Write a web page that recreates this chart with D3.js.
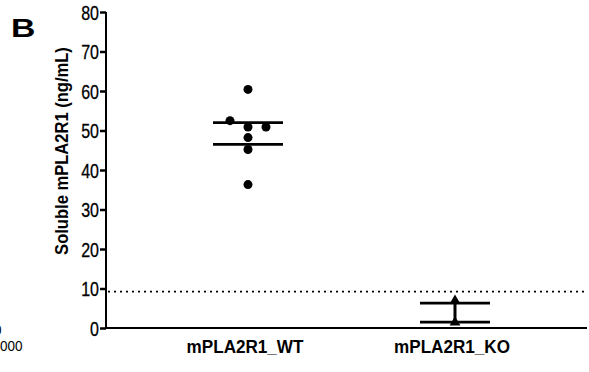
<!DOCTYPE html>
<html>
<head>
<meta charset="utf-8">
<script src="https://cdn.jsdelivr.net/npm/d3@7"></script>
<style>
  html, body { margin: 0; padding: 0; background: #fff; }
  svg { display: block; }
  text { font-family: "Liberation Sans", Arial, sans-serif; fill: #000; }
</style>
</head>
<body>
<svg id="chart" width="589" height="372"></svg>
<script>
// groups on the x axis
const groups = ["mPLA2R1_WT", "mPLA2R1_KO"];

// soluble mPLA2R1 (ng/mL)
const wtValues = [60.4, 52.5, 50.9, 50.9, 48.2, 45.2, 36.3];
const wtJitter = [0, -2, 0, 2, 0, 0, 0];      // horizontal spread, in dot widths
const koValues = [6.9, 1.4];

// summary bars (upper / lower) per group
const wtBars = [52.0, 46.5];
const koBars = [6.3, 1.5];

const detectionLimit = 9.2;
const yTicks = [0, 10, 20, 30, 40, 50, 60, 70, 80];

const svg = d3.select("#chart");
const m = { left: 106, right: 587, top: 12, bottom: 328 };

const y = d3.scaleLinear().domain([0, 80]).range([m.bottom, m.top]);
const x = d3.scalePoint().domain(groups).range([248, 455]);

// panel letter
svg.append("text")
  .attr("transform", "translate(11,37) scale(1.35,1)")
  .style("font-size", "25px").style("font-weight", "bold")
  .text("B");

// leftover from neighbouring panel
svg.append("text")
  .attr("transform", "translate(0,351) scale(0.9,1)")
  .style("font-size", "15px")
  .text("000");
svg.append("text")
  .attr("transform", "translate(-6,335) scale(0.9,1)")
  .style("font-size", "15px")
  .text("0");

// y axis
const yAxis = svg.append("g")
  .attr("transform", `translate(${m.left},0)`)
  .call(d3.axisLeft(y).tickValues(yTicks).tickSize(6).tickPadding(3).tickSizeOuter(0));
yAxis.attr("font-size", 20).attr("font-family", "Liberation Sans, Arial, sans-serif");
yAxis.select(".domain").attr("stroke-width", 2).attr("d", `M0,${m.top}V${m.bottom}`);
yAxis.selectAll(".tick line").attr("stroke-width", 2.5);
yAxis.selectAll(".tick text")
  .attr("x", null)
  .attr("dy", "0.35em")
  .attr("transform", "translate(-7,0) scale(0.8,1)")
  .style("font-size", "20px")
  .style("stroke", "#000").style("stroke-width", 0.3);

// x axis line
svg.append("line")
  .attr("x1", m.left - 1).attr("x2", m.right)
  .attr("y1", m.bottom).attr("y2", m.bottom)
  .attr("stroke", "#000").attr("stroke-width", 2);

// group labels
svg.selectAll(".glabel")
  .data(groups)
  .join("text")
  .attr("class", "glabel")
  .attr("transform", d => `translate(${x(d) - 3},353) scale(0.9,1)`)
  .attr("text-anchor", "middle")
  .style("font-size", "19px").style("font-weight", "bold")
  .text(d => d);

// y label
svg.append("text")
  .attr("transform", "translate(68,151) rotate(-90) scale(0.92,1)")
  .attr("text-anchor", "middle")
  .style("font-size", "18px").style("font-weight", "bold")
  .text("Soluble mPLA2R1 (ng/mL)");

// detection limit
svg.append("line")
  .attr("x1", m.left + 2).attr("x2", m.right)
  .attr("y1", y(detectionLimit)).attr("y2", y(detectionLimit))
  .attr("stroke", "#000").attr("stroke-width", 1.6)
  .attr("stroke-dasharray", "2,4");

const barHalf = 35;
const dotR = 4.5;

function drawBars(group, vals) {
  svg.selectAll(null)
    .data(vals)
    .join("line")
    .attr("x1", x(group) - barHalf).attr("x2", x(group) + barHalf)
    .attr("y1", d => y(d)).attr("y2", d => y(d))
    .attr("stroke", "#000").attr("stroke-width", 2.8);
}

drawBars(groups[0], wtBars);
drawBars(groups[1], koBars);

// WT dots
svg.selectAll(".wt")
  .data(wtValues)
  .join("circle")
  .attr("class", "wt")
  .attr("cx", (d, i) => x(groups[0]) + wtJitter[i] * dotR * 2)
  .attr("cy", d => y(d))
  .attr("r", dotR)
  .attr("fill", "#000");

// KO: stem + triangles
svg.append("line")
  .attr("x1", x(groups[1])).attr("x2", x(groups[1]))
  .attr("y1", y(d3.max(koValues))).attr("y2", y(d3.min(koValues)))
  .attr("stroke", "#000").attr("stroke-width", 3);

svg.selectAll(".ko")
  .data(koValues)
  .join("path")
  .attr("class", "ko")
  .attr("transform", d => `translate(${x(groups[1])},${y(d)})`)
  .attr("d", d3.symbol(d3.symbolTriangle, 50))
  .attr("fill", "#000");
</script>
</body>
</html>
